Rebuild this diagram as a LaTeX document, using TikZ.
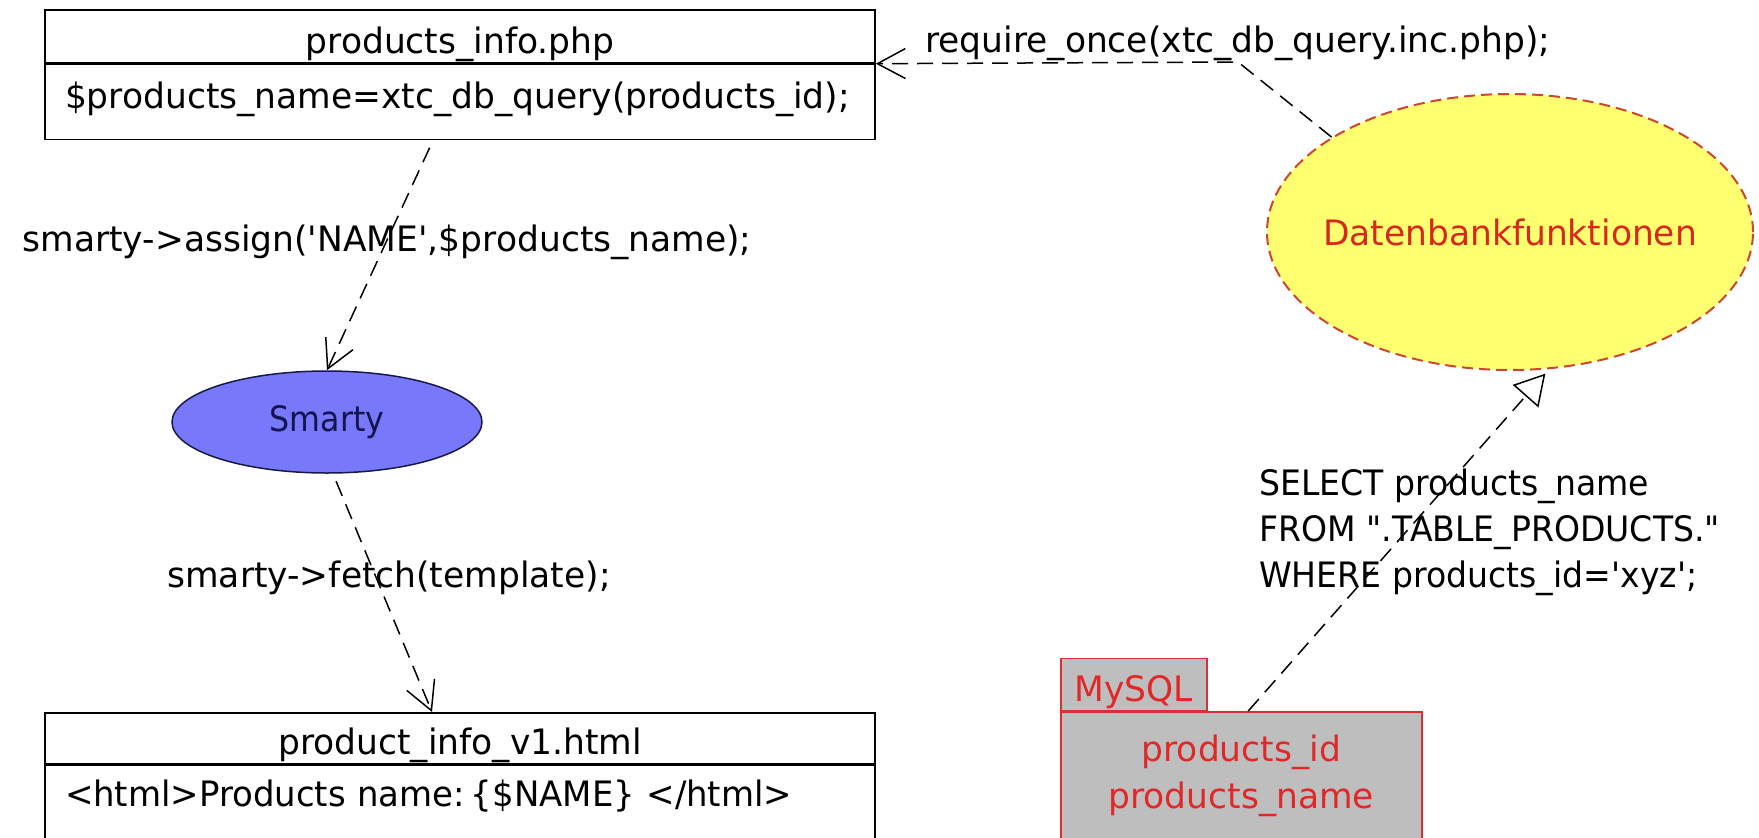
\documentclass[tikz,border=0pt]{standalone}
\usepackage{fontspec}
\setmainfont{DejaVu Sans}[FakeStretch=0.985]
\usetikzlibrary{arrows.meta,shapes.geometric}
\definecolor{smfill}{RGB}{120,120,250}
\definecolor{smdraw}{RGB}{25,25,70}
\definecolor{smtext}{RGB}{20,20,80}
\definecolor{dbfill}{RGB}{255,255,112}
\definecolor{dbdraw}{RGB}{205,70,50}
\definecolor{dbtext}{RGB}{215,40,30}
\definecolor{sqlfill}{RGB}{190,190,190}
\definecolor{sqldraw}{RGB}{215,50,50}
\definecolor{sqltext}{RGB}{225,40,40}
\begin{document}
\begin{tikzpicture}[x=1pt,y=-1pt,
  every node/.style={font=\fontsize{35}{46}\selectfont, inner sep=0pt},
  box/.style={draw=black, line width=1.7pt, minimum width=830pt, anchor=north},
  dep/.style={draw=black, line width=1.5pt, dash pattern=on 16pt off 9pt},
  barb/.style={-{Straight Barb[length=28pt,width=30pt,line width=1.5pt]}},
  tri/.style={-{Triangle[open,fill=white,length=30pt,width=34pt,line width=1.5pt]}},
  sqlshape/.style={draw=sqldraw, fill=sqlfill, line width=1.5pt, text=sqltext}]
\clip (0,0) rectangle (1759,838);
% boxes
\node[box, minimum height=53pt, text height=44pt, text depth=9pt] (pinfo) at (460,9) {products\_info.php};
\node[box, minimum height=75pt, text width=790pt, align=left, text height=44pt, text depth=31pt] (pcode) at (pinfo.south) {\$products\_name=xtc\_db\_query(products\_id);};
\node[box, minimum height=51pt, text height=42pt, text depth=9pt] (htitle) at (460,712) {product\_info\_v1.html};
\node[box, minimum height=100pt, text width=790pt, align=left, text height=41pt, text depth=59pt] (hcode) at (htitle.south) {\scalebox{0.985}[1]{<html>Products name:\,\{\$NAME\} </html>}};
% ellipses
\node[ellipse, draw=smdraw, fill=smfill, line width=1.5pt, minimum width=310pt, minimum height=102pt, text=smtext] (smarty) at (327,422) {\makebox[0pt]{\scalebox{0.92}[1]{Smarty}}};
\node[ellipse, draw=dbdraw, fill=dbfill, line width=2pt, dash pattern=on 11pt off 6pt, minimum width=486pt, minimum height=276pt, text=dbtext] (dbf) at (1510,232) {\makebox[0pt]{Datenbankfunktionen}};
% package
\node[sqlshape, minimum width=146pt, minimum height=52pt, text height=43pt, text depth=9pt, anchor=south west] (tab) at (1060,711) {MySQL};
\node[sqlshape, minimum width=361pt, minimum height=128pt, anchor=north west, align=center, font=\fontsize{35}{47}\selectfont] (sqlbody) at (1060,711) {products\_id\\products\_name};
% labels
\node (lassign) at (387,242) {smarty->assign(\textquotesingle NAME\textquotesingle,\$products\_name);};
\node (lfetch) at (389,578) {smarty->fetch(template);};
\node[anchor=base west] (lreq) at (925,52) {require\_once(xtc\_db\_query.inc.php);};
\node[anchor=north west, align=left] (lsql) at (1259,469) {\scalebox{0.96}[1]{SELECT products\_name}\\\scalebox{0.96}[1]{FROM \textquotedbl.TABLE\_PRODUCTS.\textquotedbl}\\\scalebox{0.96}[1]{WHERE products\_id=\textquotesingle xyz\textquotesingle;}};
% connectors
\coordinate (bend) at (1238,62);
\draw[dep, barb] (dbf.152) -- (bend) -- (pinfo.south east);
\draw[dep, barb, shorten <=8pt] ([xshift=-27pt]pcode.south) -- (smarty.north);
\draw[dep, barb, shorten <=8pt] ([xshift=6pt]smarty.south) -- ([xshift=-28pt]htitle.north);
\draw[dep, tri, shorten >=6pt] ([xshift=7pt]sqlbody.north) -- (dbf.-74);
\end{tikzpicture}
\end{document}
